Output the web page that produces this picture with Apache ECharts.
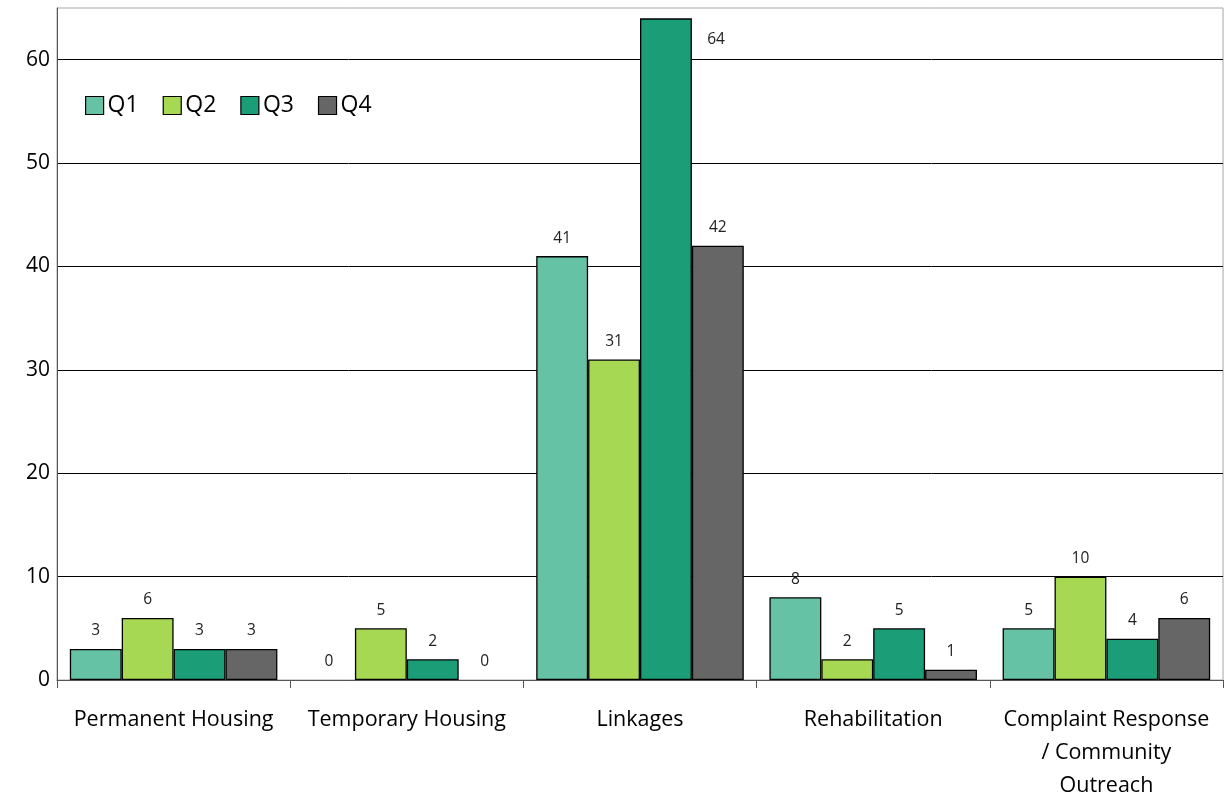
<!DOCTYPE html>
<html>
<head>
<meta charset="utf-8">
<script src="https://cdn.jsdelivr.net/npm/echarts@6/dist/echarts.min.js"></script>
<style>
  html, body { margin: 0; padding: 0; background: #fff; }
  #chart { width: 1224px; height: 796px; }
</style>
</head>
<body>
<div id="chart"></div>
<script>
// Program activity counts per quarter
const categories = [
  'Permanent Housing',
  'Temporary Housing',
  'Linkages',
  'Rehabilitation',
  'Complaint Response\n/ Community\nOutreach'
];
const seriesNames = ['Q1', 'Q2', 'Q3', 'Q4'];
const q1 = [3, 0, 41, 8, 5];
const q2 = [6, 5, 31, 2, 10];
const q3 = [3, 2, 64, 5, 4];
const q4 = [3, 0, 42, 1, 6];
const colors = ['#66c2a5', '#a6d854', '#1b9e77', '#666666'];

const FONT = 'Open Sans';
const AXIS_MAX = 65;

const chart = echarts.init(document.getElementById('chart'), null, { renderer: 'canvas' });

function makeSeries(name, values, color) {
  return {
    name: name,
    type: 'bar',
    barGap: '0%',
    barCategoryGap: '11%',
    itemStyle: { color: color, borderColor: '#000', borderWidth: 1.3 },
    label: {
      show: true,
      position: 'top',
      distance: 10,
      color: '#222',
      fontFamily: FONT,
      fontSize: 15.5
    },
    data: values.map(function (v) {
      // a bar reaching the top of the axis carries its label beside it
      if (v > AXIS_MAX - 5) {
        return {
          value: v,
          label: { position: [76, 21], align: 'center', verticalAlign: 'middle' }
        };
      }
      // empty bars keep their label but draw no outline
      if (v === 0) {
        return { value: v, itemStyle: { borderWidth: 0 } };
      }
      return v;
    })
  };
}

const option = {
  animation: false,
  color: colors,
  grid: {
    left: 57, right: 1, top: 8, bottom: 116,
    outerBoundsMode: 'none',
    containLabel: false,
    show: true, borderColor: '#a6a6a6', borderWidth: 1, backgroundColor: 'transparent'
  },
  legend: {
    left: 85, top: 94,
    padding: 0,
    icon: 'rect',
    itemWidth: 18, itemHeight: 18,
    itemGap: 24,
    itemStyle: { borderColor: '#000', borderWidth: 1.2 },
    textStyle: { fontFamily: FONT, fontSize: 23, color: '#000', padding: [0, 0, 0, -1] },
    data: seriesNames
  },
  xAxis: {
    type: 'category',
    data: categories,
    axisLine: { lineStyle: { color: '#555', width: 1 } },
    axisTick: { show: true, length: 8, alignWithLabel: false, lineStyle: { color: '#555' } },
    axisLabel: {
      interval: 0,
      margin: 23,
      fontFamily: FONT,
      fontSize: 21.5,
      lineHeight: 33,
      color: '#000'
    }
  },
  yAxis: {
    type: 'value',
    min: 0,
    max: AXIS_MAX,
    interval: 10,
    axisLine: { show: true, lineStyle: { color: '#555', width: 1 } },
    axisTick: { show: false },
    axisLabel: {
      margin: 7,
      fontFamily: FONT,
      fontSize: 21,
      color: '#000',
      formatter: function (v) { return v % 10 === 0 ? String(v) : ''; }
    },
    splitLine: { show: true, showMaxLine: false, lineStyle: { color: '#000', width: 1 } }
  },
  series: [
    makeSeries(seriesNames[0], q1, colors[0]),
    makeSeries(seriesNames[1], q2, colors[1]),
    makeSeries(seriesNames[2], q3, colors[2]),
    makeSeries(seriesNames[3], q4, colors[3])
  ]
};

chart.setOption(option);
</script>
</body>
</html>
